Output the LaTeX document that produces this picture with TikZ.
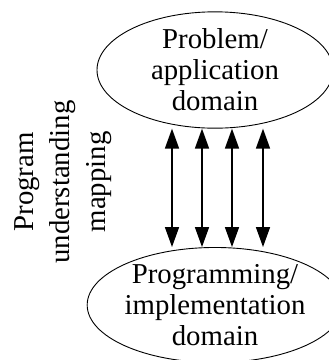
\documentclass[tikz,border=0pt]{standalone}
\usepackage{fontspec}
\setmainfont{Liberation Serif}
\usetikzlibrary{shapes.geometric,arrows.meta}
\begin{document}
\begin{tikzpicture}[x=1pt,y=-1pt,
  domainbox/.style={draw,ellipse,line width=0.9pt,minimum width=236pt,minimum height=115pt,inner sep=0pt,align=center,font=\fontsize{28.8}{31}\selectfont},
  link/.style={line width=1.6pt,{Triangle[width=14pt,length=20pt]}-{Triangle[width=14pt,length=20pt]}}]
  \useasboundingbox (0,0) rectangle (329,360);
  \node[domainbox] (prob) at (215,70) {Problem/\\application\\domain};
  \node[domainbox] (impl) at (215,305) {Programming/\\implementation\\domain};
  \foreach \x in {172,202,232,263} {
    \coordinate (c\x) at (\x,0);
    \draw[link] (prob.south -| c\x) -- (impl.north -| c\x);
  }
  \node[rotate=90,align=center,inner sep=0pt,font=\fontsize{28.8}{36}\selectfont] (map) at (63,182) {Program\\understanding\\mapping};
\end{tikzpicture}
\end{document}
